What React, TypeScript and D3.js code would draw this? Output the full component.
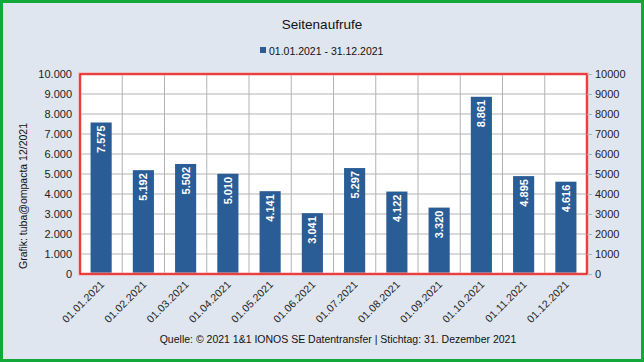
import * as d3 from "d3";
import { useEffect, useRef } from "react";

const months = [
  "01.01.2021", "01.02.2021", "01.03.2021", "01.04.2021", "01.05.2021", "01.06.2021",
  "01.07.2021", "01.08.2021", "01.09.2021", "01.10.2021", "01.11.2021", "01.12.2021",
];
const views = [7575, 5192, 5502, 5010, 4141, 3041, 5297, 4122, 3320, 8861, 4895, 4616];
const yTicks = [0, 1000, 2000, 3000, 4000, 5000, 6000, 7000, 8000, 9000, 10000];
const title = "Seitenaufrufe";
const seriesName = "01.01.2021 - 31.12.2021";
const yTitle = "Grafik: tuba@ompacta 12/2021";
const footer = "Quelle: © 2021 1&1 IONOS SE Datentransfer | Stichtag: 31. Dezember 2021";

const W = 644;
const H = 362;
const FONT = "'Liberation Sans', Arial, sans-serif";
const BLUE = "#2a5d96";

const de = (v: number) => d3.format(",")(v).replace(/,/g, ".");

const App = () => {
  const svgRef = useRef<SVGSVGElement | null>(null);

  useEffect(() => {
    const margin = { top: 74, right: 57, bottom: 88, left: 80 };
    const width = W - margin.left - margin.right;
    const height = H - margin.top - margin.bottom;

    const root = d3.select(svgRef.current);
    root.selectAll("*").remove();
    root.attr("width", W).attr("height", H).style("font-family", FONT);

    root
      .append("rect")
      .attr("x", 1.5)
      .attr("y", 1.5)
      .attr("width", W - 3)
      .attr("height", H - 3)
      .attr("fill", "#dfe6ef")
      .attr("stroke", "#13a83a")
      .attr("stroke-width", 3);

    root
      .append("text")
      .attr("x", W / 2)
      .attr("y", 29)
      .attr("text-anchor", "middle")
      .attr("font-size", 13.5)
      .attr("fill", "#111")
      .text(title);

    const leg = root.append("g").attr("transform", "translate(260, 51)");
    leg.append("rect").attr("x", 0).attr("y", -4).attr("width", 6).attr("height", 6).attr("fill", BLUE);
    leg
      .append("text")
      .attr("x", 9)
      .attr("y", 3.5)
      .attr("font-size", 10.5)
      .attr("fill", "#111")
      .text(seriesName);

    const svg = root.append("g").attr("transform", `translate(${margin.left}, ${margin.top})`);

    const x = d3.scaleBand<string>().domain(months).range([0, width]).paddingInner(0).paddingOuter(0);
    const y = d3.scaleLinear().domain([0, 10000]).range([height, 0]);

    svg.append("rect").attr("width", width).attr("height", height).attr("fill", "#fff");

    // horizontal grid
    svg
      .append("g")
      .selectAll("line")
      .data(yTicks)
      .join("line")
      .attr("x1", 0)
      .attr("x2", width)
      .attr("y1", (d) => y(d))
      .attr("y2", (d) => y(d))
      .attr("stroke", "#b3b3b3")
      .attr("stroke-width", 1);

    // vertical grid at category boundaries
    svg
      .append("g")
      .selectAll("line")
      .data(months.slice(1))
      .join("line")
      .attr("x1", (d) => x(d) as number)
      .attr("x2", (d) => x(d) as number)
      .attr("y1", 0)
      .attr("y2", height)
      .attr("stroke", "#b3b3b3")
      .attr("stroke-width", 1);

    const bw = x.bandwidth() * 0.5;
    svg
      .append("g")
      .selectAll("rect")
      .data(views)
      .join("rect")
      .attr("x", (_, i) => (x(months[i]) as number) + x.bandwidth() / 2 - bw / 2)
      .attr("y", (d) => y(d))
      .attr("width", bw)
      .attr("height", (d) => height - y(d))
      .attr("fill", BLUE);

    svg
      .append("g")
      .selectAll("text")
      .data(views)
      .join("text")
      .attr("transform", (d, i) => {
        const cx = (x(months[i]) as number) + x.bandwidth() / 2 + 4;
        return `translate(${cx}, ${y(d) + 3}) rotate(-90)`;
      })
      .attr("text-anchor", "end")
      .attr("font-size", 11)
      .attr("font-weight", "bold")
      .attr("fill", "#fff")
      .text((d) => de(d));

    // plot frame
    svg
      .append("rect")
      .attr("x", 0)
      .attr("y", 0)
      .attr("width", width)
      .attr("height", height)
      .attr("fill", "none")
      .attr("stroke", "#f6a0a0")
      .attr("stroke-width", 3);
    svg
      .append("rect")
      .attr("x", 0)
      .attr("y", 0)
      .attr("width", width)
      .attr("height", height)
      .attr("fill", "none")
      .attr("stroke", "#e00000")
      .attr("stroke-width", 1.2);

    // left axis
    const gL = svg
      .append("g")
      .call(d3.axisLeft(y).tickValues(yTicks).tickFormat((d) => de(+d)).tickSize(0).tickPadding(8));
    gL.select(".domain").remove();
    gL.selectAll("text").attr("font-size", 11).attr("fill", "#222").style("font-family", FONT);

    // right axis
    const gR = svg
      .append("g")
      .attr("transform", `translate(${width}, 0)`)
      .call(d3.axisRight(y).tickValues(yTicks).tickFormat((d) => String(d)).tickSize(5).tickPadding(3));
    gR.select(".domain").remove();
    gR.selectAll("line").attr("stroke", "#b3b3b3");
    gR.selectAll("text").attr("font-size", 11).attr("fill", "#222").style("font-family", FONT);

    // x axis labels
    const gX = svg
      .append("g")
      .attr("transform", `translate(0, ${height})`)
      .call(d3.axisBottom(x).tickSize(0).tickPadding(0));
    gX.select(".domain").remove();
    gX.selectAll("text")
      .attr("font-size", 10.5)
      .attr("letter-spacing", 0.2)
      .attr("fill", "#222")
      .style("font-family", FONT)
      .attr("text-anchor", "end")
      .attr("dy", 0)
      .attr("y", 0)
      .attr("transform", "translate(4, 11) rotate(-45)");

    root
      .append("text")
      .attr("transform", `translate(27, 196) rotate(-90)`)
      .attr("text-anchor", "middle")
      .attr("font-size", 10.5)
      .attr("fill", "#111")
      .text(yTitle);

    root
      .append("text")
      .attr("x", 338)
      .attr("y", 343)
      .attr("text-anchor", "middle")
      .attr("font-size", 10.5)
      .attr("fill", "#111")
      .text(footer);
  }, []);

  return <svg ref={svgRef} style={{ display: "block", position: "absolute", left: 0, top: 0 }}></svg>;
};

export default App;
